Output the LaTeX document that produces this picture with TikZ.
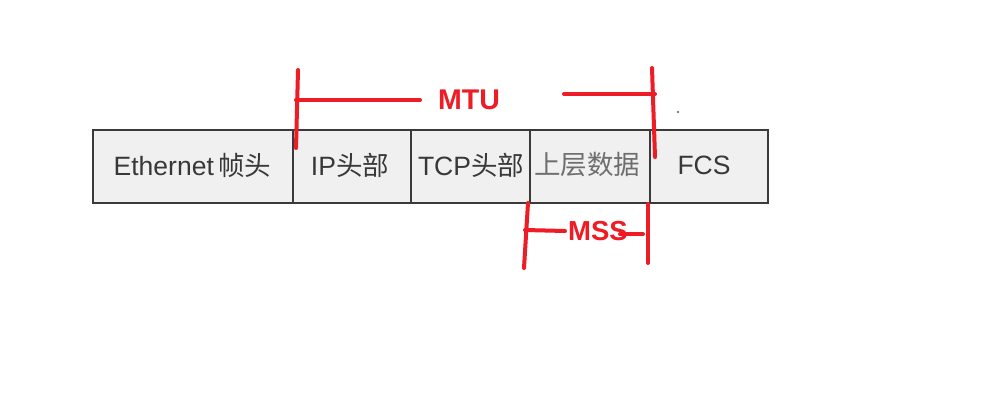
\documentclass[tikz,border=0pt]{standalone}
\usepackage{fontspec}
\setmainfont{Liberation Sans}
\newfontfamily\cjk{Noto Sans CJK SC}
\definecolor{pred}{HTML}{EE1C24}
\definecolor{cellfill}{HTML}{F0F0F0}
\definecolor{celldraw}{HTML}{3A3A3A}
\definecolor{celltext}{HTML}{383838}
\definecolor{celltextlight}{HTML}{6E6E6E}
\begin{document}
\begin{tikzpicture}[x=1pt,y=-1pt,
  cell/.style={draw=celldraw,line width=2pt,fill=cellfill,minimum height=72pt,inner sep=0pt,
    text=celltext,font=\fontsize{26.5}{30}\selectfont},
  redline/.style={draw=pred,line width=4pt,line cap=round},
  redlabel/.style={text=pred,inner sep=0pt,font=\bfseries\fontsize{28.5}{32}\selectfont}]
\useasboundingbox (0,0) rectangle (1004,401);
\fill[white] (0,0) rectangle (1004,401);
% cells
\node[cell,minimum width=200pt] (eth) at (193,166.5) {};
\node[cell,minimum width=118pt] (ip) at (352,166.5) {};
\node[cell,minimum width=119pt] (tcp) at (470.5,166.5) {};
\node[cell,minimum width=120pt] (data) at (590,166.5) {};
\node[cell,minimum width=118pt] (fcs) at (709,166.5) {};
\node[text=celltext,font=\fontsize{26.5}{30}\selectfont,inner sep=0pt] (teth) at (192.5,165) {Ethernet\,{\cjk 帧头}};
\node[text=celltext,font=\fontsize{26.5}{30}\selectfont,inner sep=0pt] (tip) at (350,165) {IP{\cjk 头部}};
\node[text=celltext,font=\fontsize{26.5}{30}\selectfont,inner sep=0pt] (ttcp) at (471,165) {TCP{\cjk 头部}};
\node[text=celltextlight,font=\fontsize{26.5}{30}\selectfont,inner sep=0pt] (tdata) at (587,165) {\cjk 上层数据};
\node[text=celltext,font=\fontsize{26.5}{30}\selectfont,inner sep=0pt] (tfcs) at (704,165) {FCS};
% MTU
\node[redlabel] (mtu) at (469,100) {MTU};
\coordinate (m1a) at (298,70);
\coordinate (m1b) at (296,148);
\coordinate (m2a) at (296,100);
\coordinate (m2b) at (420,100);
\coordinate (m3a) at (564,94);
\coordinate (m3b) at (655,94);
\coordinate (m4a) at (652,68);
\coordinate (m4b) at (655,157);
\draw[redline] (m1a) -- (m1b);
\draw[redline] (m2a) -- (m2b);
\draw[redline] (m3a) -- (m3b);
\draw[redline] (m4a) -- (m4b);
% MSS
\node[redlabel,font=\bfseries\fontsize{27.5}{32}\selectfont] (mss) at (598,231) {MSS};
\coordinate (s1a) at (528,203);
\coordinate (s1b) at (524,268);
\coordinate (s2a) at (525,230);
\coordinate (s2b) at (565,231);
\coordinate (s3a) at (620,234);
\coordinate (s3b) at (643,234);
\coordinate (s4a) at (648,204);
\coordinate (s4b) at (648,263);
\draw[redline] (s1a) -- (s1b);
\draw[redline] (s2a) -- (s2b);
\draw[redline] (s3a) -- (s3b);
\draw[redline] (s4a) -- (s4b);
% stray dot
\coordinate (dot) at (678,112);
\fill[black] (dot) circle (0.8pt);
\end{tikzpicture}
\end{document}
